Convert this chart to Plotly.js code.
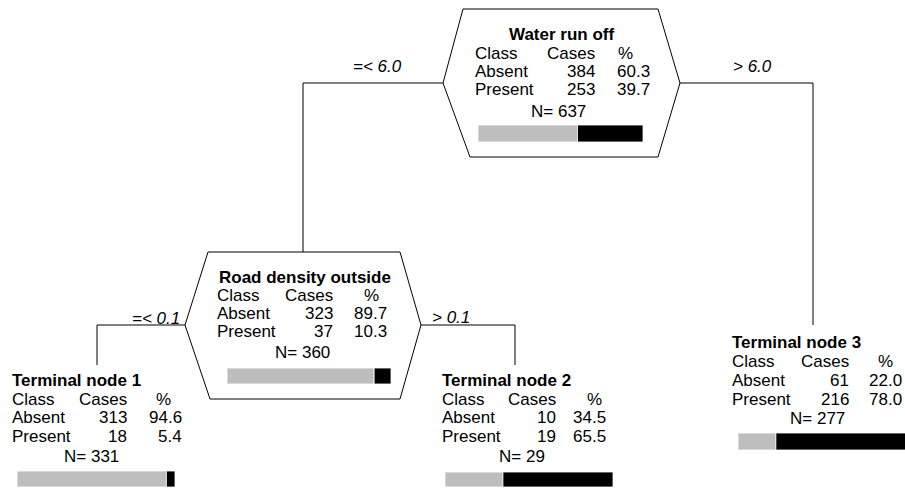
<!DOCTYPE html>
<html>
<head>
<meta charset="utf-8">
<script src="https://cdn.plot.ly/plotly-3.0.1.min.js"></script>
<style>html,body{margin:0;padding:0;background:#fff;}#chart{width:905px;height:488px;}</style>
</head>
<body>
<div id="chart"></div>
<script>
// ---- data ----
const nodeNames = ["Water run off", "Road density outside", "Terminal node 1", "Terminal node 2", "Terminal node 3"];
const headerLabels = ["Class", "Cases", "%"];
const classLabels = ["Absent", "Present"];
const absentCases = [384, 323, 313, 10, 61];
const presentCases = [253, 37, 18, 19, 216];
const absentPct = ["60.3", "89.7", "94.6", "34.5", "22.0"];
const presentPct = ["39.7", "10.3", "5.4", "65.5", "78.0"];
const nTotals = [637, 360, 331, 29, 277];
const splitLabels = ["=< 6.0", "> 6.0", "=< 0.1", "> 0.1"];

// ---- layout geometry (pixel-like coordinates of the canvas) ----
const geo = [
  {title: 561, titleAnchor: "center", classX: 475, casesR: 595, pctC: 625, pctR: 650, nC: 558,
   rows: [34, 53.5, 71.5, 89.5, 111], barL: 478, barW: 165, barY: 133.5, barH: 17},
  {title: 305, titleAnchor: "center", classX: 217, casesR: 333, pctC: 371, pctR: 387, nC: 302,
   rows: [277, 295, 313, 331.5, 352], barL: 227, barW: 164, barY: 376, barH: 16},
  {title: 12, titleAnchor: "left", classX: 12, casesR: 127, pctC: 163, pctR: 182, nC: 91,
   rows: [380, 399, 417, 436, 456], barL: 17, barW: 158, barY: 479, barH: 16},
  {title: 442, titleAnchor: "left", classX: 442, casesR: 556, pctC: 594, pctR: 606, nC: 522,
   rows: [380, 399, 417, 436, 456], barL: 445, barW: 168, barY: 479.5, barH: 15},
  {title: 732, titleAnchor: "left", classX: 732, casesR: 849, pctC: 885, pctR: 902, nC: 817,
   rows: [342, 361, 380, 399, 418], barL: 738, barW: 172, barY: 441.5, barH: 17}
];
const hexes = [
  [[463, 9], [658, 9], [680, 83], [658, 157], [470, 157], [443, 83]],
  [[208, 252], [400, 252], [421, 325], [400, 399], [210, 399], [185, 325]]
];
const connectors = [
  [[443, 83], [303, 83], [303, 252]],
  [[680, 83], [813, 83], [813, 325]],
  [[185, 325], [97, 325], [97, 365]],
  [[421, 325], [515, 325], [515, 365]]
];
const splitPos = [[377, 66], [752, 66], [156, 318], [451, 317]];

const FONT = "Liberation Sans, Arial, Helvetica, sans-serif";
const FS = 17;
const ann = [];
function addText(text, x, y, anchor, opts) {
  ann.push(Object.assign({
    x: x, y: y, xref: "x", yref: "y", text: text, showarrow: false,
    xanchor: anchor, yanchor: "middle", borderpad: 0, borderwidth: 0,
    font: {family: FONT, size: FS, color: "#000"}
  }, opts || {}));
}

nodeNames.forEach((name, i) => {
  const g = geo[i];
  addText("<b>" + name + "</b>", g.title, g.rows[0], g.titleAnchor);
  addText(headerLabels[0], g.classX, g.rows[1], "left");
  addText(headerLabels[1], g.casesR, g.rows[1], "right");
  addText(headerLabels[2], g.pctC, g.rows[1], "center");
  addText(classLabels[0], g.classX, g.rows[2], "left");
  addText(String(absentCases[i]), g.casesR, g.rows[2], "right");
  addText(absentPct[i], g.pctR, g.rows[2], "right");
  addText(classLabels[1], g.classX, g.rows[3], "left");
  addText(String(presentCases[i]), g.casesR, g.rows[3], "right");
  addText(presentPct[i], g.pctR, g.rows[3], "right");
  addText("N= " + nTotals[i], g.nC, g.rows[4], "center");
});
splitLabels.forEach((s, i) => {
  addText("<i>" + s + "</i>", splitPos[i][0], splitPos[i][1], "center");
});

const shapes = [];
hexes.forEach(h => {
  let p = "M" + h.map(q => q[0] + "," + q[1]).join(" L") + " Z";
  shapes.push({type: "path", xref: "x", yref: "y", path: p, line: {color: "#000", width: 1}, fillcolor: "rgba(0,0,0,0)"});
});
connectors.forEach(c => {
  let p = "M" + c.map(q => q[0] + "," + q[1]).join(" L");
  shapes.push({type: "path", xref: "x", yref: "y", path: p, line: {color: "#000", width: 1}});
});

// bars from class proportions
const fracAbsent = absentCases.map((a, i) => a / (a + presentCases[i]));
const grayTrace = {
  type: "bar", orientation: "h",
  y: geo.map(g => g.barY),
  base: geo.map(g => g.barL),
  x: geo.map((g, i) => g.barW * fracAbsent[i]),
  width: geo.map(g => g.barH),
  marker: {color: "#bebebe", line: {color: "#fff", width: 0.8}},
  hoverinfo: "skip", showlegend: false
};
const blackTrace = {
  type: "bar", orientation: "h",
  y: geo.map(g => g.barY),
  base: geo.map((g, i) => g.barL + g.barW * fracAbsent[i]),
  x: geo.map((g, i) => g.barW * (1 - fracAbsent[i])),
  width: geo.map(g => g.barH),
  marker: {color: "#000", line: {color: "#fff", width: 0.8}},
  hoverinfo: "skip", showlegend: false
};

const layout = {
  width: 905, height: 488,
  margin: {l: 0, r: 0, t: 0, b: 0},
  paper_bgcolor: "#fff", plot_bgcolor: "#fff",
  barmode: "overlay",
  xaxis: {range: [0, 905], visible: false, fixedrange: true},
  yaxis: {range: [488, 0], visible: false, fixedrange: true},
  shapes: shapes,
  annotations: ann,
  showlegend: false
};
Plotly.newPlot("chart", [grayTrace, blackTrace], layout, {displayModeBar: false, staticPlot: true});
</script>
</body>
</html>
